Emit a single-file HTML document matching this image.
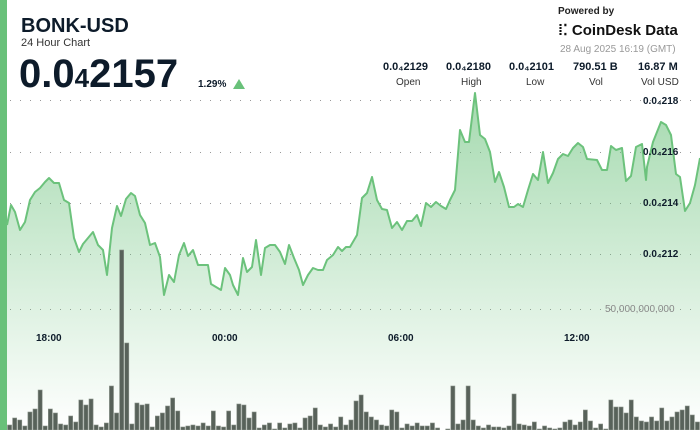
<!DOCTYPE html>
<html><head><meta charset="utf-8"><style>
body{margin:0;width:700px;height:430px;overflow:hidden;background:#fff;font-family:"Liberation Sans",sans-serif;color:#0d1b2a;position:relative}
.abs{position:absolute;white-space:nowrap}
</style></head><body>
<div class="abs" style="left:0;top:0;width:7px;height:430px;background:#69c17a"></div>
<div class="abs" style="left:21px;top:15px;font-size:20px;font-weight:bold">BONK-USD</div>
<div class="abs" style="left:21px;top:37px;font-size:11px;color:#333">24 Hour Chart</div>
<div class="abs" style="left:19px;top:52px;font-size:40px;font-weight:bold;letter-spacing:0px">0.0<span style="font-size:26px">4</span>2157</div>
<div class="abs" style="left:198px;top:79px;font-size:10px;font-weight:bold">1.29%</div>
<div class="abs" style="left:233px;top:79px;width:0;height:0;border-left:6px solid transparent;border-right:6px solid transparent;border-bottom:10px solid #69c17a"></div>
<div class="abs" style="left:558px;top:6px;font-size:10px;font-weight:bold;color:#222">Powered by</div>
<div class="abs" style="left:558px;top:21px;font-size:15px;font-weight:bold;color:#111">⁞⁚ CoinDesk Data</div>
<div class="abs" style="left:560px;top:44px;font-size:10px;color:#999">28 Aug 2025 16:19 (GMT)</div>
<div class="abs" style="left:383px;top:61px;font-size:11px;font-weight:bold">0.0₄2129</div>
<div class="abs" style="left:446px;top:61px;font-size:11px;font-weight:bold">0.0₄2180</div>
<div class="abs" style="left:509px;top:61px;font-size:11px;font-weight:bold">0.0₄2101</div>
<div class="abs" style="left:573px;top:61px;font-size:11px;font-weight:bold">790.51 B</div>
<div class="abs" style="left:638px;top:61px;font-size:11px;font-weight:bold">16.87 M</div>
<div class="abs" style="left:396px;top:77px;font-size:10px;color:#333">Open</div>
<div class="abs" style="left:461px;top:77px;font-size:10px;color:#333">High</div>
<div class="abs" style="left:526px;top:77px;font-size:10px;color:#333">Low</div>
<div class="abs" style="left:589px;top:77px;font-size:10px;color:#333">Vol</div>
<div class="abs" style="left:641px;top:77px;font-size:10px;color:#333">Vol USD</div>
<svg class="abs" style="left:0;top:0" width="700" height="430" id="s">
<defs><linearGradient id="g" x1="0" y1="0" x2="0" y2="1"><stop offset="0" stop-color="#69c17a" stop-opacity="0.6"/><stop offset="1" stop-color="#69c17a" stop-opacity="0"/></linearGradient></defs>
<g stroke="#999" stroke-dasharray="1 9" stroke-width="1">
<line x1="10" x2="700" y1="100.5" y2="100.5"/><line x1="10" x2="700" y1="152.5" y2="152.5"/><line x1="10" x2="700" y1="203.5" y2="203.5"/><line x1="10" x2="700" y1="254.5" y2="254.5"/><line x1="10" x2="700" y1="309.5" y2="309.5"/>
</g>
<path id="area" fill="url(#g)"/>
<g id="bars"></g>
<polyline id="ln" fill="none" stroke="#6cc27c" stroke-width="2" stroke-linejoin="round"/>
<g font-size="10" font-weight="bold" fill="#0d1b2a" font-family="Liberation Sans">
<text x="36" y="341">18:00</text><text x="212" y="341">00:00</text><text x="388" y="341">06:00</text><text x="564" y="341">12:00</text>
<text x="643" y="104">0.0₄218</text><text x="643" y="155">0.0₄216</text><text x="643" y="206">0.0₄214</text><text x="643" y="257">0.0₄212</text>
<text x="605" y="312" fill="#888" font-weight="normal">50,000,000,000</text>
</g>
</svg>
<script>
var p=[7,225,11,205,15,212,20,230,25,222,30,200,35,192,40,188,45,182,49,178,54,183,59,183,64,200,69,203,74,238,79,252,83,244,88,238,93,232,98,245,103,250,107,275,112,228,117,206,121,216,126,199,131,193,135,196,140,215,145,223,150,245,155,243,160,257,164,295,169,275,174,282,179,255,184,243,188,256,193,250,198,265,203,265,208,265,211,284,216,287,221,290,225,268,230,275,233,285,238,295,243,258,247,272,252,267,256,240,261,275,265,248,270,245,275,245,280,252,285,264,289,245,294,258,299,270,303,285,308,275,313,268,318,270,323,270,327,260,333,255,338,247,342,251,346,247,350,247,357,235,362,198,367,193,372,177,377,200,382,209,387,210,392,228,397,222,402,230,407,221,412,221,417,215,421,226,426,203,431,207,436,202,441,206,446,209,450,200,455,190,460,130,465,142,469,142,475,93,480,135,485,139,490,152,495,182,499,172,504,187,509,207,514,207,518,204,523,207,528,190,533,174,538,180,543,152,548,183,553,173,558,159,563,154,568,156,573,148,578,143,583,147,587,159,597,160,602,170,607,170,611,146,616,150,622,148,626,181,631,176,636,147,642,144,646,180,647,167,653,142,661,122,666,125,671,135,676,174,680,177,685,211,690,203,695,185,700,158];
var pts=[];for(var i=0;i<p.length;i+=2)pts.push(p[i]+','+p[i+1]);
document.getElementById('ln').setAttribute('points',pts.join(' '));
document.getElementById('area').setAttribute('d','M7,430 L'+pts.join(' L')+' L700,430 Z');
var h=[5,12,10,4,18,21,40,4,21,17,6,5,14,8,30,25,31,5,3,7,44,17,180,87,6,27,25,26,3,14,17,24,32,19,3,4,5,4,7,4,19,4,3,19,5,26,25,12,18,2,5,7,1,7,2,6,7,2,12,14,22,5,3,6,3,13,5,10,29,35,18,13,10,5,4,20,18,2,6,4,7,4,4,7,2,0,1,44,6,10,44,10,4,2,5,3,3,2,4,36,6,5,4,8,1,4,2,1,2,8,10,5,8,20,9,2,6,1,30,23,23,17,30,13,9,8,13,9,22,9,13,18,20,24,15,8];
var g='';var dx=693/h.length;
for(var i=0;i<h.length;i++){var x=7+i*dx;g+='<rect x="'+(x+0.5).toFixed(1)+'" y="'+(430-h[i])+'" width="'+(dx-1).toFixed(1)+'" height="'+h[i]+'" fill="#58625a" stroke="#8a938a" stroke-width="0.6"/>';}
document.getElementById('bars').innerHTML=g;
</script>
</body></html>
